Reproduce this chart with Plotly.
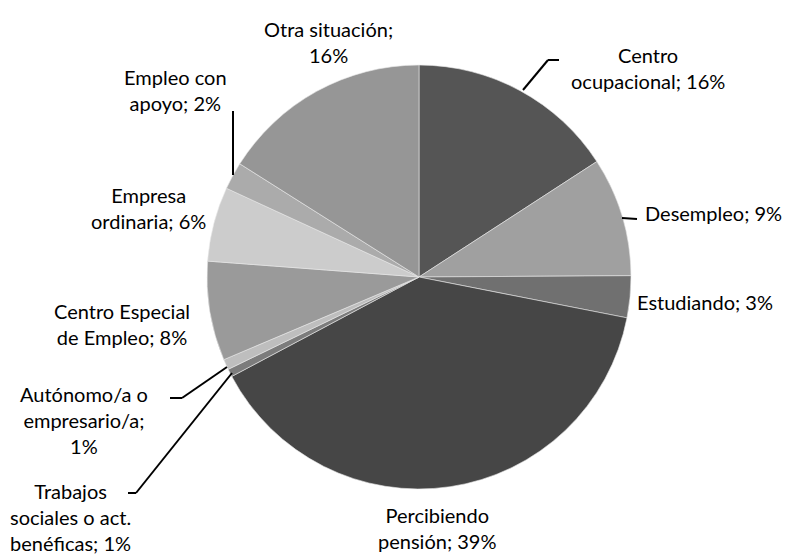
import plotly.graph_objects as go

# slices, clockwise from 12 o'clock
labels = ["Centro ocupacional", "Desempleo", "Estudiando", "Percibiendo pensión",
          "Trabajos sociales o act. benéficas", "Autónomo/a o empresario/a",
          "Centro Especial de Empleo", "Empresa ordinaria", "Empleo con apoyo",
          "Otra situación"]
values = [15.9, 9.1, 3.2, 39.3, 0.6, 0.8, 7.6, 5.7, 2.1, 16.1]
colors = ["#555555", "#a0a0a0", "#707070", "#464646", "#7c7c7c", "#bebebe",
          "#9a9a9a", "#cccccc", "#ababab", "#969696"]

# label texts as shown on the chart
label_texts = ["Centro<br>ocupacional; 16%", "Desempleo; 9%", "Estudiando; 3%",
               "Percibiendo<br>pensión; 39%", "Trabajos<br>sociales o act.<br>benéficas; 1%",
               "Autónomo/a o<br>empresario/a;<br>1%", "Centro Especial<br>de Empleo; 8%",
               "Empresa<br>ordinaria; 6%", "Empleo con<br>apoyo; 2%", "Otra situación;<br>16%"]

W, H = 794, 554
OFF = 8  # page body margin


def px(x):
    return (x - OFF) / W


def py(y):
    return 1 - (y - OFF) / H


fig = go.Figure(go.Pie(
    labels=labels, values=values, sort=False, direction="clockwise", rotation=0,
    marker=dict(colors=colors, line=dict(color="#e8e8e8", width=0.6)),
    textinfo="none", hoverinfo="label+percent", showlegend=False,
    domain=dict(x=[px(207), px(631)], y=[py(489), py(65)]),
))

# label positions (pixels: x, y, xanchor)
pos = [(648, 68, "center"), (643, 213, "left"), (635, 302, "left"),
       (437, 528, "center"), (70, 517, "center"), (84, 420, "center"),
       (122, 324, "center"), (148, 208, "center"), (175, 90, "center"),
       (328, 42, "center")]

annotations = []
for t, (x, y, xa) in zip(label_texts, pos):
    annotations.append(dict(x=px(x), y=py(y), xref="paper", yref="paper",
                            text=t, showarrow=False, xanchor=xa, yanchor="middle",
                            align="center", font=dict(size=20, color="#000000")))

# leader lines (pixel polylines)
leaders = [
    [(559, 60), (548, 60), (523, 90)],
    [(622, 218), (637, 219)],
    [(182, 398), (170, 398)],
    [(182, 398), (227, 367)],
    [(128, 493), (136, 493), (232, 373)],
    [(233, 111), (233, 175)],
]
shapes = []
for pts in leaders:
    for (x0, y0), (x1, y1) in zip(pts[:-1], pts[1:]):
        shapes.append(dict(type="line", xref="paper", yref="paper",
                           x0=px(x0), y0=py(y0), x1=px(x1), y1=py(y1),
                           line=dict(color="#000000", width=2)))

fig.update_layout(
    width=W, height=H, margin=dict(l=0, r=0, t=0, b=0),
    paper_bgcolor="white", plot_bgcolor="white",
    font=dict(family="Lato, Carlito, Calibri, sans-serif"),
    annotations=annotations, shapes=shapes,
)

fig.write_html("out.html")
